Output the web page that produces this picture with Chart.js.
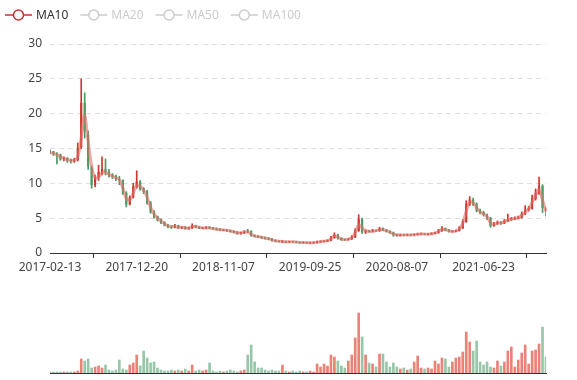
<!DOCTYPE html>
<html>
<head>
<meta charset="utf-8">
<script src="https://cdn.jsdelivr.net/npm/chart.js@4/dist/chart.umd.min.js"></script>
<style>
  body { margin: 0; background: #fff; }
  #wrap { position: relative; width: 577px; height: 380px; }
  #klineChart { position: absolute; left: 0; top: 0; }
  #volChart { position: absolute; left: 0; top: 300px; }
</style>
</head>
<body>
<div id="wrap">
  <canvas id="klineChart" width="577" height="283"></canvas>
  <canvas id="volChart" width="577" height="80"></canvas>
</div>
<script>
// x axis labels, one every labelStep candles
var tickLabels = ['2017-02-13', '2017-12-20', '2018-11-07', '2019-09-25', '2020-08-07', '2021-06-23'];
var labelStep = 25;

var maNames = ['MA10', 'MA20', 'MA50', 'MA100'];
var maActive = [true, false, false, false];

var opens = [
  14.6, 14.5, 14.3, 14.1, 13.5, 13.6, 13.3, 13.2, 13.4, 15.2,
  21.5, 17.0, 12.2, 9.8, 10.8, 11.5, 12.0, 11.6, 11.2, 11.0,
  10.6, 10.4, 8.6, 7.0, 8.0, 9.5, 10.2, 9.2, 8.8, 7.2,
  5.9, 5.2, 4.8, 4.4, 4.0, 3.8, 3.7, 3.9, 3.6, 3.7,
  3.5, 3.6, 3.9, 3.7, 3.55, 3.6, 3.7, 3.6, 3.5, 3.4,
  3.25, 3.3, 3.2, 3.1, 3.0, 2.8, 2.9, 3.2, 3.1, 2.5,
  2.4, 2.3, 2.2, 2.1, 2.0, 1.8, 1.7, 1.58, 1.62, 1.6,
  1.62, 1.6, 1.55, 1.5, 1.52, 1.45, 1.47, 1.5, 1.6, 1.65,
  1.7, 1.8, 2.2, 2.6, 2.1, 1.95, 1.9, 2.0, 2.3, 3.2,
  4.8, 3.0, 3.15, 3.1, 3.25, 3.2, 3.5, 3.3, 3.1, 2.9,
  2.6, 2.5, 2.62, 2.58, 2.63, 2.6, 2.65, 2.7, 2.75, 2.68,
  2.72, 2.8, 2.9, 3.2, 3.5, 3.3, 3.05, 3.1, 3.2, 3.6,
  4.5, 7.0, 7.6, 7.0, 6.1, 5.8, 5.5, 5.0, 3.9, 4.2,
  4.4, 4.3, 4.6, 4.8, 4.9, 5.0, 5.1, 5.6, 6.2, 6.4,
  7.8, 8.6, 9.6, 6.5
];
var closes = [
  14.5, 14.3, 14.2, 13.5, 13.6, 13.3, 13.2, 13.4, 15.0, 21.5,
  17.5, 12.5, 9.8, 10.8, 11.6, 12.0, 11.6, 11.2, 11.0, 10.7,
  10.5, 8.6, 7.0, 8.0, 9.5, 10.2, 9.2, 8.8, 7.2, 5.9,
  5.2, 4.8, 4.4, 4.0, 3.8, 3.7, 3.9, 3.6, 3.7, 3.5,
  3.6, 3.9, 3.7, 3.6, 3.6, 3.7, 3.6, 3.5, 3.4, 3.3,
  3.3, 3.2, 3.1, 3.0, 2.8, 2.9, 3.0, 3.1, 2.5, 2.4,
  2.3, 2.2, 2.1, 2.0, 1.8, 1.7, 1.65, 1.62, 1.6, 1.62,
  1.6, 1.55, 1.5, 1.52, 1.45, 1.47, 1.5, 1.6, 1.65, 1.7,
  1.8, 2.2, 2.6, 2.1, 1.9, 1.9, 2.0, 2.3, 3.2, 4.8,
  3.0, 3.1, 3.1, 3.2, 3.2, 3.5, 3.3, 3.1, 2.9, 2.6,
  2.5, 2.6, 2.58, 2.6, 2.6, 2.65, 2.7, 2.75, 2.7, 2.72,
  2.8, 2.9, 3.2, 3.5, 3.3, 3.1, 3.1, 3.2, 3.6, 4.5,
  7.0, 7.6, 7.0, 6.1, 5.8, 5.5, 5.0, 3.9, 4.2, 4.4,
  4.3, 4.6, 4.8, 4.9, 5.0, 5.1, 5.6, 6.2, 6.4, 7.8,
  8.6, 9.6, 6.5, 5.9
];
var highs = [
  14.8, 14.6, 14.4, 14.2, 13.8, 13.7, 13.5, 13.6, 15.8, 25.0,
  23.0, 17.5, 12.5, 11.2, 12.6, 13.8, 13.5, 12.0, 11.4, 11.2,
  11.0, 10.5, 8.8, 8.2, 10.0, 11.8, 10.4, 9.4, 9.0, 7.4,
  6.1, 5.3, 4.9, 4.5, 4.1, 3.9, 4.1, 4.0, 3.8, 3.8,
  3.7, 4.2, 4.0, 3.8, 3.7, 3.8, 3.8, 3.7, 3.6, 3.5,
  3.4, 3.4, 3.3, 3.2, 3.1, 3.0, 3.2, 3.4, 3.2, 2.6,
  2.5, 2.4, 2.3, 2.2, 2.1, 1.9, 1.8, 1.8, 1.7, 1.7,
  1.7, 1.65, 1.6, 1.6, 1.55, 1.55, 1.6, 1.7, 1.75, 1.8,
  1.9, 2.4, 2.9, 2.7, 2.2, 2.0, 2.1, 2.5, 3.5, 5.5,
  5.0, 3.3, 3.3, 3.4, 3.3, 3.7, 3.6, 3.4, 3.2, 3.0,
  2.7, 2.7, 2.7, 2.7, 2.7, 2.75, 2.85, 2.85, 2.8, 2.8,
  2.9, 3.0, 3.4, 3.8, 3.6, 3.4, 3.2, 3.3, 3.8, 4.8,
  7.5, 8.1, 7.9, 7.2, 6.3, 6.0, 5.6, 5.1, 4.4, 4.6,
  4.5, 4.8, 5.6, 5.1, 5.2, 5.3, 5.9, 6.8, 6.7, 8.3,
  9.2, 10.9, 9.8, 6.6
];
var lows = [
  14.3, 14.0, 12.8, 13.3, 13.2, 13.0, 12.9, 13.0, 13.2, 15.0,
  16.5, 12.0, 9.3, 9.5, 10.4, 11.2, 11.2, 10.9, 10.7, 10.4,
  9.8, 8.4, 6.6, 6.9, 7.9, 9.3, 9.0, 8.5, 7.0, 5.7,
  5.0, 4.6, 4.2, 3.9, 3.6, 3.5, 3.6, 3.5, 3.5, 3.4,
  3.4, 3.5, 3.6, 3.5, 3.5, 3.5, 3.5, 3.4, 3.3, 3.2,
  3.2, 3.1, 3.0, 2.9, 2.7, 2.7, 2.8, 2.9, 2.4, 2.3,
  2.2, 2.1, 2.0, 1.9, 1.7, 1.6, 1.55, 1.5, 1.5, 1.5,
  1.5, 1.45, 1.4, 1.4, 1.38, 1.38, 1.4, 1.45, 1.55, 1.6,
  1.65, 1.75, 2.1, 2.0, 1.8, 1.8, 1.85, 1.95, 2.2, 3.1,
  2.8, 2.8, 3.0, 3.0, 3.1, 3.1, 3.2, 3.0, 2.8, 2.4,
  2.4, 2.45, 2.5, 2.5, 2.5, 2.55, 2.6, 2.65, 2.6, 2.6,
  2.65, 2.75, 2.85, 3.1, 3.2, 3.0, 3.0, 3.05, 3.15, 3.5,
  4.4, 6.8, 6.8, 5.9, 5.6, 5.3, 4.8, 3.7, 3.8, 4.1,
  4.1, 4.2, 4.5, 4.7, 4.8, 4.9, 5.0, 5.5, 6.0, 6.3,
  7.6, 8.4, 5.8, 5.3
];
var ma10 = [
  14.4, 14.3, 14.1, 13.8, 13.6, 13.4, 13.3, 13.3, 13.8, 16.5,
  19.8, 16.0, 12.5, 10.8, 10.9, 11.5, 11.6, 11.3, 11.0, 10.8,
  10.5, 9.4, 7.8, 7.6, 8.6, 9.7, 9.6, 9.0, 8.0, 6.6,
  5.6, 5.0, 4.6, 4.2, 3.9, 3.8, 3.8, 3.7, 3.7, 3.6,
  3.6, 3.8, 3.8, 3.7, 3.6, 3.6, 3.6, 3.5, 3.4, 3.35,
  3.3, 3.25, 3.15, 3.05, 2.9, 2.9, 3.0, 3.0, 2.7, 2.45,
  2.35, 2.25, 2.15, 2.05, 1.9, 1.75, 1.7, 1.65, 1.6, 1.6,
  1.6, 1.58, 1.52, 1.5, 1.48, 1.46, 1.48, 1.55, 1.62, 1.7,
  1.78, 2.0, 2.45, 2.3, 2.0, 1.92, 1.98, 2.2, 2.9, 4.0,
  3.6, 3.2, 3.1, 3.15, 3.2, 3.35, 3.35, 3.2, 3.0, 2.75,
  2.6, 2.58, 2.6, 2.6, 2.6, 2.62, 2.68, 2.72, 2.72, 2.7,
  2.76, 2.85, 3.05, 3.35, 3.35, 3.2, 3.1, 3.15, 3.45, 4.2,
  6.0, 7.3, 7.2, 6.5, 5.9, 5.6, 5.2, 4.3, 4.1, 4.3,
  4.3, 4.5, 4.7, 4.85, 4.95, 5.05, 5.4, 5.9, 6.3, 7.3,
  8.3, 9.1, 7.6, 6.0
];
var volumes = [
  1, 1, 1, 1, 1, 1, 1, 1, 2, 14,
  12, 14, 5, 6, 7, 5, 8, 3, 2, 3,
  13, 4, 3, 8, 10, 18, 7, 22, 15, 10,
  11, 5, 3, 2, 2, 3, 2, 3, 2, 4,
  2, 8, 2, 3, 2, 3, 10, 2, 1, 2,
  1, 2, 3, 2, 1, 2, 3, 18, 28, 11,
  5, 5, 3, 2, 3, 2, 2, 8, 2, 1,
  2, 1, 2, 1, 1, 2, 1, 9, 6, 9,
  7, 18, 16, 12, 7, 5, 12, 18, 35, 60,
  36, 18, 10, 9, 6, 19, 19, 11, 6, 10,
  6, 4, 5, 3, 4, 11, 17, 5, 4, 5,
  4, 12, 9, 15, 14, 6, 11, 15, 16, 21,
  41, 31, 22, 32, 11, 8, 11, 6, 5, 12,
  7, 11, 22, 26, 6, 13, 20, 28, 9, 22,
  23, 29, 46, 16
];

Chart.defaults.font.family = "'Noto Sans', sans-serif";
Chart.defaults.font.size = 12;

var upColor = '#c9392d';
var downColor = '#4a9a64';

var days = closes.map(function (c, i) { return i; });
var bodies = closes.map(function (c, i) { return [Math.min(opens[i], c), Math.max(opens[i], c)]; });
var wicks = lows.map(function (l, i) { return [l, highs[i]]; });
var candleColors = closes.map(function (c, i) { return c >= opens[i] ? upColor : downColor; });
var volColors = closes.map(function (c, i) {
  return c >= opens[i] ? 'rgba(224,78,58,0.7)' : 'rgba(82,160,112,0.6)';
});

// echarts-like legend: line + hollow circle, inactive ones grey
var maLegend = {
  id: 'maLegend',
  afterDraw: function (chart) {
    var c = chart.ctx;
    var x = 5, y = 15;
    c.save();
    c.font = "12px 'Noto Sans'";
    c.textBaseline = 'middle';
    maNames.forEach(function (name, i) {
      var col = maActive[i] ? '#c23531' : '#ccc';
      c.strokeStyle = col;
      c.lineWidth = 1.5;
      c.beginPath(); c.moveTo(x, y); c.lineTo(x + 27, y); c.stroke();
      c.beginPath(); c.arc(x + 13.5, y, 5, 0, Math.PI * 2);
      c.fillStyle = '#fff'; c.fill(); c.stroke();
      c.fillStyle = maActive[i] ? '#333' : '#ccc';
      c.fillText(name, x + 31, y + 1);
      x += 31 + c.measureText(name).width + 12;
    });
    c.restore();
  }
};

var ctx = document.getElementById("klineChart").getContext('2d');
var kline = new Chart(ctx, {
  type: 'bar',
  data: {
    labels: days,
    datasets: [
      {
        type: 'line',
        label: 'MA10',
        data: ma10,
        borderColor: 'rgba(226,110,104,0.6)',
        borderWidth: 3,
        pointRadius: 0,
        tension: 0.35,
        order: 0
      },
      {
        label: 'body',
        data: bodies,
        backgroundColor: candleColors,
        barThickness: 1.5,
        grouped: false,
        order: 1
      },
      {
        label: 'wick',
        data: wicks,
        backgroundColor: candleColors,
        barThickness: 1,
        grouped: false,
        order: 2
      }
    ]
  },
  options: {
    responsive: false,
    animation: false,
    layout: { padding: { top: 44, right: 31, left: 0, bottom: 0 } },
    plugins: { legend: { display: false }, tooltip: { enabled: false } },
    scales: {
      x: {
        offset: false,
        grid: { drawOnChartArea: false, tickLength: 5, color: '#333' },
        border: { color: '#333' },
        afterBuildTicks: function (s) {
          s.ticks = s.ticks.filter(function (t) { return t.value % labelStep === 0; });
        },
        ticks: {
          autoSkip: false,
          maxRotation: 0,
          padding: 2,
          color: '#444',
          callback: function (v) { return tickLabels[v / labelStep]; }
        },
        afterFit: function (s) { s.height = 30; }
      },
      y: {
        min: 0,
        max: 30,
        ticks: { stepSize: 5, padding: 8, color: '#444' },
        grid: { color: '#e0e0e0', drawTicks: false },
        border: { display: false, dash: [5, 4] },
        afterFit: function (s) { s.width = 50; }
      }
    }
  },
  plugins: [maLegend]
});

var vtx = document.getElementById("volChart").getContext('2d');
var volChart = new Chart(vtx, {
  type: 'bar',
  data: {
    labels: days,
    datasets: [{
      label: 'Volume',
      data: volumes,
      backgroundColor: volColors,
      barThickness: 2
    }]
  },
  options: {
    responsive: false,
    animation: false,
    layout: { padding: { top: 3, bottom: 7, left: 50, right: 31 } },
    plugins: { legend: { display: false }, tooltip: { enabled: false } },
    scales: {
      x: {
        offset: false,
        grid: { display: false },
        ticks: { display: false },
        border: { color: '#333' },
        afterFit: function (s) { s.height = 0; }
      },
      y: { display: false, min: 0, max: 70 }
    }
  }
});
</script>
</body>
</html>
